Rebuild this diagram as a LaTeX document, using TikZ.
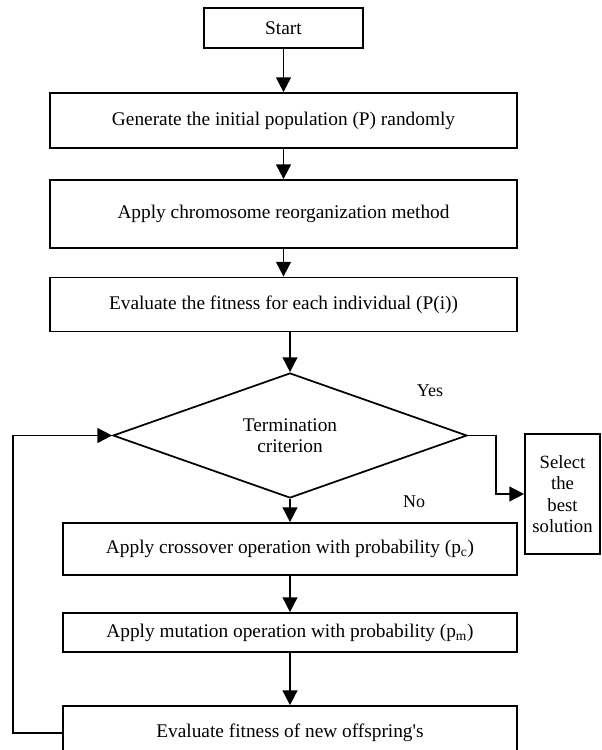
\documentclass[tikz,border=0pt]{standalone}
\usepackage{fontspec}
\setmainfont{Liberation Serif}
\usepackage{tikz}
\usetikzlibrary{calc}
\usetikzlibrary{positioning}
\usetikzlibrary{arrows.meta}
\usetikzlibrary{shapes.geometric}

\begin{document}
\begin{tikzpicture}[x=0.75pt,y=-0.75pt]
\tikzstyle{box}=[rectangle,align=center,draw,line width=1.3pt,fill=white,inner sep=0pt,font=\fontsize{14.5}{16}\selectfont]
\tikzstyle{decision}=[diamond,aspect=2.8,align=center,draw,line width=1.3pt,inner sep=0pt,font=\fontsize{14.5}{16}\selectfont]
\tikzstyle{flow}=[line width=1.3pt,-{Triangle[length=11pt,width=11pt]}]
\tikzstyle{answer}=[font=\fontsize{13.5}{16}\selectfont]
\useasboundingbox (0,0) rectangle (601,750);
\node[box,minimum width=119.25pt,minimum height=30pt] at(283.5, 28) (start) {Start};
\node[box,minimum width=350.25pt,minimum height=41.25pt] at(283.5, 120.5) (init) {Generate the initial population (P) randomly};
\node[box,minimum width=350.25pt,minimum height=51pt] at(283.5, 214) (reorg) {Apply chromosome reorganization method};
\node[box,minimum width=350.25pt,minimum height=40.5pt] at(283.5, 304.5) (fitness) {Evaluate the fitness for each individual (P(i))};
\node[decision,minimum width=265.5pt,minimum height=93.75pt] at(290, 435.5) (term) {Termination\\criterion};
\node[box,minimum width=56.25pt,minimum height=90pt,font=\fontsize{14}{16}\selectfont] at(562.5, 494) (best) {Select\\the\\best\\solution};
\node[box,minimum width=340.5pt,minimum height=39pt] at(290, 549) (cross) {Apply crossover operation with probability (p\textsubscript{c})};
\node[box,minimum width=340.5pt,minimum height=29.25pt] at(290, 632.5) (mut) {Apply mutation operation with probability (p\textsubscript{m})};
\node[box,minimum width=340.5pt,minimum height=40.5pt] at(290, 733) (offspring) {Evaluate fitness of new offspring\textquotesingle s};
\node[answer] at(430, 391) (yes) {Yes};
\node[answer] at(414, 502) (no) {No};
\coordinate (yesbend) at(496, 435.5);
\coordinate (loopback) at(13, 733);

\draw[flow] (start) -- (init);
\draw[flow] (init) -- (reorg);
\draw[flow] (reorg) -- (fitness);
\draw[flow] (fitness.south -| term.north) -- (term.north);
\draw[flow] (term.south) -- (cross.north -| term.south);
\draw[flow] (cross) -- (mut);
\draw[flow] (mut) -- (offspring);
\draw[flow] (term.east) -- (yesbend) |- (best.west);
\draw[flow] (offspring.west) -- (loopback) |- (term.west);
\end{tikzpicture}
\end{document}
